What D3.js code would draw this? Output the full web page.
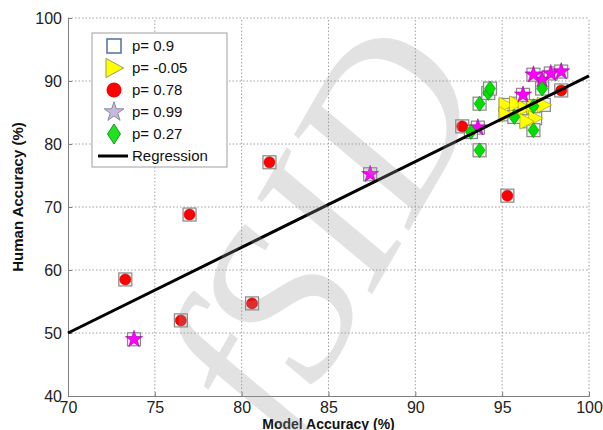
<!DOCTYPE html>
<html>
<head>
<meta charset="utf-8">
<script src="https://cdn.jsdelivr.net/npm/d3@7"></script>
<style>
  body { margin: 0; background: #fff; }
  svg { display: block; font-family: "Liberation Sans", Arial, sans-serif; }
</style>
</head>
<body>
<div id="container"></div>
<script>
// axis ticks
const xTicks = [70, 75, 80, 85, 90, 95, 100];
const yTicks = [40, 50, 60, 70, 80, 90, 100];

// p= -0.05 (yellow triangles)
const triX = [95.2, 95.2, 95.8, 96.3, 96.8, 97.4, 96.9, 96.4];
const triY = [86.2, 84.7, 86.4, 85.7, 86.0, 86.2, 84.1, 83.6];
// p= 0.78 (red circles)
const circX = [73.3, 76.5, 77.0, 80.6, 81.6, 92.7, 95.3, 98.4];
const circY = [58.5, 52.0, 68.8, 54.7, 77.1, 82.8, 71.8, 88.5];
// p= 0.99 (magenta stars)
const starX = [73.8, 87.4, 93.6, 96.2, 97.3, 96.8, 97.8, 98.4];
const starY = [49.0, 75.2, 82.6, 87.8, 90.2, 91.0, 91.2, 91.5];
// p= 0.27 (green diamonds)
const diamX = [93.7, 94.2, 94.3, 93.2, 93.7, 97.3, 95.7, 96.8, 96.8];
const diamY = [86.4, 88.1, 88.8, 81.9, 79.0, 88.8, 84.3, 82.2, 86.0];
// regression line end points
const regX = [70, 100];
const regY = [50, 90.8];

const legendLabels = ["p= 0.9", "p= -0.05", "p= 0.78", "p= 0.99", "p= 0.27", "Regression"];

const w = 603;
const h = 430;
const m = { left: 68, right: 14, top: 18, bottom: 34 };

const svg = d3.select("#container").append("svg")
    .attr("width", w)
    .attr("height", h);

const x = d3.scaleLinear().domain([70, 100]).range([m.left, w - m.right]);
const y = d3.scaleLinear().domain([40, 100]).range([h - m.bottom, m.top]);

const zip = (xs, ys) => xs.map((d, i) => [d, ys[i]]);
const tris = zip(triX, triY);
const circs = zip(circX, circY);
const stars = zip(starX, starY);
const diams = zip(diamX, diamY);
// the square series sits under every point
const squares = [].concat(circs, tris, stars, diams);

// grid
svg.append("g")
    .selectAll("line")
    .data(xTicks.slice(1))
    .enter().append("line")
    .attr("x1", (d) => x(d)).attr("x2", (d) => x(d))
    .attr("y1", y(40)).attr("y2", y(100))
    .attr("stroke", "#a0a0a0")
    .attr("stroke-dasharray", "1.5,2");

svg.append("g")
    .selectAll("line")
    .data(yTicks.slice(1))
    .enter().append("line")
    .attr("x1", x(70)).attr("x2", x(100))
    .attr("y1", (d) => y(d)).attr("y2", (d) => y(d))
    .attr("stroke", "#a0a0a0")
    .attr("stroke-dasharray", "1.5,2");

// axes
const xAxis = d3.axisBottom(x).tickValues(xTicks).tickSize(-4).tickPadding(5);
const yAxis = d3.axisLeft(y).tickValues(yTicks).tickSize(-4).tickPadding(6);

const gx = svg.append("g")
    .attr("transform", `translate(0, ${h - m.bottom})`)
    .call(xAxis);
const gy = svg.append("g")
    .attr("transform", `translate(${m.left}, 0)`)
    .call(yAxis);

[gx, gy].forEach((g) => {
    g.select(".domain").attr("stroke", "#808080");
    g.selectAll(".tick line").attr("stroke", "#808080");
    g.selectAll(".tick text")
        .attr("fill", "#222")
        .style("font-size", "16px")
        .style("font-family", "'Liberation Sans', Arial, sans-serif");
});
gx.selectAll(".tick text").attr("dy", "0.72em");
gy.selectAll(".tick text").attr("dy", "0.36em");

svg.append("text")
    .attr("x", (x(70) + x(100)) / 2)
    .attr("y", 429)
    .attr("text-anchor", "middle")
    .attr("font-weight", "bold")
    .attr("font-size", 14)
    .attr("fill", "#111")
    .text("Model Accuracy (%)");

svg.append("text")
    .attr("transform", "translate(23, 197) rotate(-90)")
    .attr("text-anchor", "middle")
    .attr("font-weight", "bold")
    .attr("font-size", 15)
    .attr("fill", "#111")
    .text("Human Accuracy (%)");

// shapes
const rightTri = (s) => `M${-s * 0.5},${-s * 0.6}L${s * 0.6},0L${-s * 0.5},${s * 0.6}Z`;
const diamond = (wd, ht) => `M0,${-ht / 2}L${wd / 2},0L0,${ht / 2}L${-wd / 2},0Z`;

svg.append("g")
    .selectAll("rect")
    .data(squares)
    .enter().append("rect")
    .attr("x", (d) => x(d[0]) - 6.5)
    .attr("y", (d) => y(d[1]) - 6.5)
    .attr("width", 13)
    .attr("height", 13)
    .attr("fill", "#f2f2f2")
    .attr("stroke", "#8a8a8a")
    .attr("stroke-width", 1.2);

svg.append("g")
    .selectAll("circle")
    .data(circs)
    .enter().append("circle")
    .attr("cx", (d) => x(d[0]))
    .attr("cy", (d) => y(d[1]))
    .attr("r", 5.5)
    .attr("fill", "#ff0000")
    .attr("stroke", "#c00000")
    .attr("stroke-width", 0.6);

svg.append("g")
    .selectAll("path")
    .data(tris)
    .enter().append("path")
    .attr("d", rightTri(13))
    .attr("transform", (d) => `translate(${x(d[0])}, ${y(d[1])})`)
    .attr("fill", "#ffff00")
    .attr("stroke", "#a0a000")
    .attr("stroke-width", 0.6);

svg.append("g")
    .selectAll("path")
    .data(stars)
    .enter().append("path")
    .attr("d", d3.symbol(d3.symbolStar, 90)())
    .attr("transform", (d) => `translate(${x(d[0])}, ${y(d[1])})`)
    .attr("fill", "#ff00ff")
    .attr("stroke", "#a000a0")
    .attr("stroke-width", 0.6);

svg.append("g")
    .selectAll("path")
    .data(diams)
    .enter().append("path")
    .attr("d", diamond(11, 15))
    .attr("transform", (d) => `translate(${x(d[0])}, ${y(d[1])})`)
    .attr("fill", "#00e000")
    .attr("stroke", "#009000")
    .attr("stroke-width", 0.6);

// regression
svg.append("path")
    .datum(zip(regX, regY))
    .attr("d", d3.line().x((d) => x(d[0])).y((d) => y(d[1])))
    .attr("stroke", "#000")
    .attr("stroke-width", 3)
    .attr("fill", "none");

// legend
const lg = svg.append("g").attr("transform", "translate(92, 33)");
lg.append("rect")
    .attr("width", 135)
    .attr("height", 134)
    .attr("fill", "#fff")
    .attr("stroke", "#a0a0a0");

const rowY = (i) => 13 + i * 22;
const mx = 22;

lg.append("rect")
    .attr("x", mx - 7).attr("y", rowY(0) - 7)
    .attr("width", 14).attr("height", 14)
    .attr("fill", "#fff")
    .attr("stroke", "#4f6f9f")
    .attr("stroke-width", 1.5);
lg.append("path")
    .attr("d", rightTri(16))
    .attr("transform", `translate(${mx}, ${rowY(1)})`)
    .attr("fill", "#ffff00")
    .attr("stroke", "#9a9a60");
lg.append("circle")
    .attr("cx", mx).attr("cy", rowY(2))
    .attr("r", 7.5)
    .attr("fill", "#ff0000");
lg.append("path")
    .attr("d", d3.symbol(d3.symbolStar, 120)())
    .attr("transform", `translate(${mx}, ${rowY(3)})`)
    .attr("fill", "#c9b8de")
    .attr("stroke", "#8a8a9a");
lg.append("path")
    .attr("d", diamond(13, 20))
    .attr("transform", `translate(${mx}, ${rowY(4)})`)
    .attr("fill", "#22e022")
    .attr("stroke", "#1a9a1a");
lg.append("line")
    .attr("x1", 6).attr("x2", 36)
    .attr("y1", rowY(5)).attr("y2", rowY(5))
    .attr("stroke", "#000")
    .attr("stroke-width", 3);

lg.selectAll("text.lab")
    .data(legendLabels)
    .enter().append("text")
    .attr("class", "lab")
    .attr("x", 40)
    .attr("y", (d, i) => rowY(i))
    .attr("dy", "0.36em")
    .attr("font-size", 15)
    .attr("fill", "#111")
    .text((d) => d);

// watermark
svg.append("text")
    .attr("transform", "translate(285, 445) rotate(-60)")
    .attr("font-family", "'Liberation Serif', serif")
    .attr("font-style", "italic")
    .attr("font-size", 225)
    .attr("fill", "#9a9a9a")
    .attr("opacity", 0.28)
    .text("fSID");
</script>
</body>
</html>
